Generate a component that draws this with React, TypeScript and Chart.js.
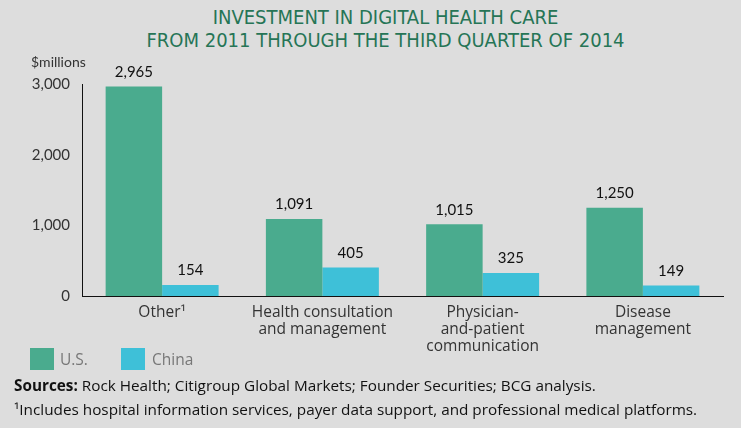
import React, { useEffect, useRef } from "react";
import { Chart, registerables } from "chart.js";

Chart.register(...registerables);

const categories: string[][] = [
  ["Other¹"],
  ["Health consultation", "and management"],
  ["Physician-", "and-patient", "communication"],
  ["Disease", "management"],
];
const usValues = [2965, 1091, 1015, 1250];
const chinaValues = [154, 405, 325, 149];
const yTickValues = [0, 1000, 2000, 3000];
const seriesNames = ["U.S.", "China"];

const BG = "#dddddd";
const US_COLOR = "#4aab8e";
const CHINA_COLOR = "#3ec0d8";
const TITLE_COLOR = "#267556";
const TEXT = "#333333";
const BODY_FONT = "Lato, 'Open Sans', sans-serif";
const LABEL_FONT = "'Open Sans', Lato, sans-serif";
const TITLE_FONT = "'Liberation Sans Narrow', 'DejaVu Sans Condensed', sans-serif";

const fmt = (v: number) => v.toLocaleString("en-US");

export default function App() {
  const ref = useRef<HTMLCanvasElement>(null);

  useEffect(() => {
    document.body.style.margin = "0";
    const valueLabels = {
      id: "valueLabels",
      afterDatasetsDraw(chart: any) {
        const ctx = chart.ctx;
        ctx.save();
        ctx.fillStyle = "#111";
        ctx.font = `15px ${BODY_FONT}`;
        ctx.textAlign = "center";
        ctx.textBaseline = "bottom";
        chart.data.datasets.forEach((ds: any, i: number) => {
          const meta = chart.getDatasetMeta(i);
          meta.data.forEach((bar: any, j: number) => {
            ctx.fillText(fmt(ds.data[j]), bar.x, bar.y - 7);
          });
        });
        ctx.restore();
      },
    };
    const chart = new Chart(ref.current as HTMLCanvasElement, {
      type: "bar",
      data: {
        labels: categories,
        datasets: [
          {
            label: seriesNames[0],
            data: usValues,
            backgroundColor: US_COLOR,
            categoryPercentage: 0.705,
            barPercentage: 1,
          },
          {
            label: seriesNames[1],
            data: chinaValues,
            backgroundColor: CHINA_COLOR,
            categoryPercentage: 0.705,
            barPercentage: 1,
          },
        ],
      },
      options: {
        responsive: false,
        animation: false,
        devicePixelRatio: 1,
        layout: { padding: { left: 0, right: 18, top: 84, bottom: 0 } },
        plugins: {
          legend: { display: false },
          title: { display: false },
          tooltip: { enabled: false },
        },
        scales: {
          x: {
            grid: { display: false, drawTicks: false },
            border: { display: true, color: "#111", width: 1 },
            ticks: {
              color: TEXT,
              font: { family: LABEL_FONT, size: 15.5, lineHeight: 1.1 },
              padding: 8,
              maxRotation: 0,
              autoSkip: false,
            },
            afterFit: (scale: any) => {
              scale.height = 132;
            },
          },
          y: {
            min: 0,
            max: 3000,
            grid: { display: false, drawTicks: false },
            border: { display: true, color: "#111", width: 1 },
            afterBuildTicks: (scale: any) => {
              scale.ticks = yTickValues.map((v) => ({ value: v }));
            },
            ticks: {
              color: TEXT,
              font: { family: BODY_FONT, size: 15 },
              padding: 12,
              callback: (v: any) => fmt(Number(v)),
            },
            afterFit: (scale: any) => {
              scale.width = 82;
            },
          },
        },
      },
      plugins: [valueLabels],
    });
    return () => chart.destroy();
  }, []);

  const abs = (x: number, y: number): React.CSSProperties => ({
    position: "absolute",
    left: x,
    top: y,
    whiteSpace: "nowrap",
  });

  return (
    <div
      style={{
        position: "relative",
        width: 741,
        height: 428,
        background: BG,
        overflow: "hidden",
        fontFamily: BODY_FONT,
        color: TEXT,
      }}
    >
      <div
        style={{
          position: "absolute",
          left: 30,
          top: 6,
          width: 711,
          textAlign: "center",
          color: TITLE_COLOR,
          fontFamily: TITLE_FONT,
          fontSize: 20,
          lineHeight: "23px",
        }}
      >
        INVESTMENT IN DIGITAL HEALTH CARE
        <br />
        FROM 2011 THROUGH THE THIRD QUARTER OF 2014
      </div>
      <canvas
        ref={ref}
        width={741}
        height={428}
        style={{ position: "absolute", left: 0, top: 0 }}
      />
      <div style={{ ...abs(31, 53), fontSize: 14, color: TEXT }}>$millions</div>
      <div style={{ ...abs(30, 348), width: 24, height: 22, background: US_COLOR }} />
      <div
        style={{
          ...abs(60, 348),
          fontSize: 15.5,
          color: "#777",
          lineHeight: "22px",
          fontFamily: LABEL_FONT,
        }}
      >
        {seriesNames[0]}
      </div>
      <div style={{ ...abs(121, 348), width: 24, height: 22, background: CHINA_COLOR }} />
      <div
        style={{
          ...abs(152, 348),
          fontSize: 15.5,
          color: "#777",
          lineHeight: "22px",
          fontFamily: LABEL_FONT,
        }}
      >
        {seriesNames[1]}
      </div>
      <div
        style={{
          ...abs(14, 373),
          fontSize: 15.3,
          color: "#111",
          lineHeight: "24px",
          fontFamily: LABEL_FONT,
        }}
      >
        <b>Sources:</b> Rock Health; Citigroup Global Markets; Founder Securities; BCG analysis.
        <br />
        ¹Includes hospital information services, payer data support, and professional medical platforms.
      </div>
    </div>
  );
}
